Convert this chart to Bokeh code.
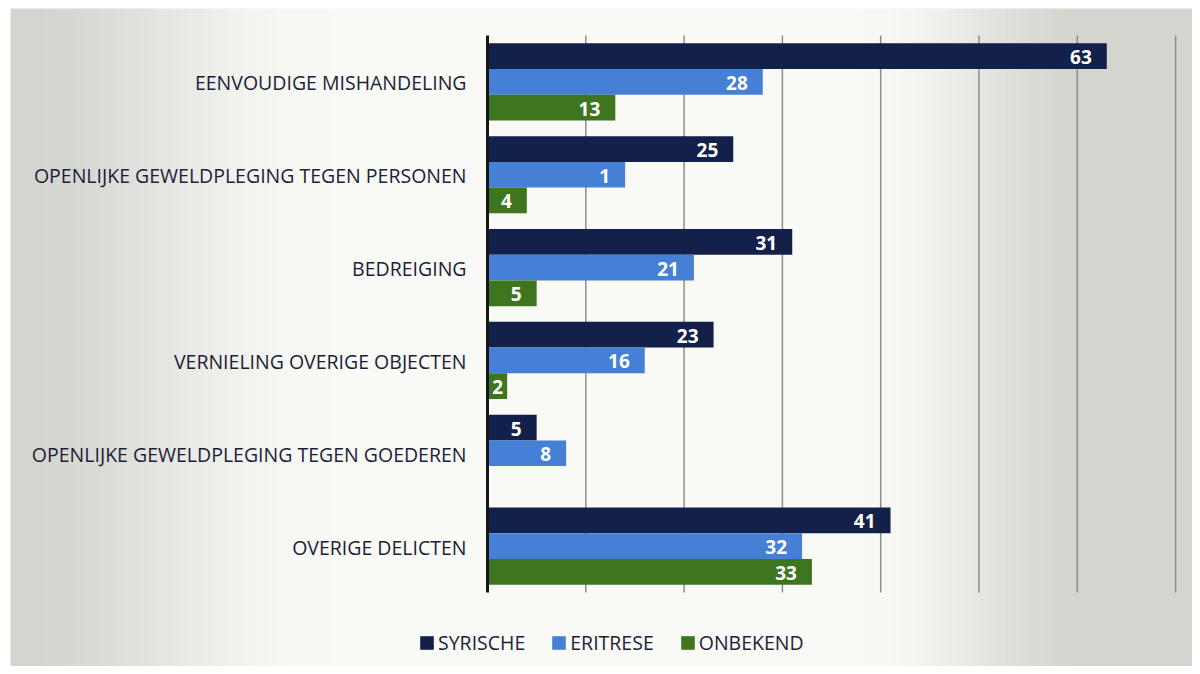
import numpy as np
from bokeh.plotting import figure
from bokeh.models import ColumnDataSource, Range1d, Legend, LegendItem
from bokeh.transform import dodge
from bokeh.core.properties import value
from bokeh.embed import file_html
from bokeh.resources import INLINE

categories = [
    "EENVOUDIGE MISHANDELING",
    "OPENLIJKE GEWELDPLEGING TEGEN PERSONEN",
    "BEDREIGING",
    "VERNIELING OVERIGE OBJECTEN",
    "OPENLIJKE GEWELDPLEGING TEGEN GOEDEREN",
    "OVERIGE DELICTEN",
]
syrische = [63, 25, 31, 23, 5, 41]
eritrese = [28, 14, 21, 16, 8, 32]
onbekend = [13, 4, 5, 2, 0, 33]
syrische_labels = ["63", "25", "31", "23", "5", "41"]
eritrese_labels = ["28", "1", "21", "16", "8", "32"]
onbekend_labels = ["13", "4", "5", "2", "", "33"]
series_names = ["SYRISCHE", "ERITRESE", "ONBEKEND"]
colors = ["#13214a", "#4580d6", "#3e7620"]
grid_ticks = [10, 20, 30, 40, 50, 60, 70]

n = len(categories)
ypos = [n - i - 0.5 for i in range(n)]

W, H = 1192, 666
# layout geometry (pixels)
ax_px, top_px, bot_px = 487, 35, 592
px_per_x = 9.83
px_per_y = (bot_px - top_px) / n

x_range = Range1d(-ax_px / px_per_x, (W - ax_px) / px_per_x)
y_range = Range1d(-(H - bot_px) / px_per_y, n + top_px / px_per_y)

p = figure(
    width=W, height=H, output_backend="svg", toolbar_location=None,
    x_range=x_range, y_range=y_range,
    x_axis_location=None, y_axis_location=None,
    min_border=0,
)
p.outline_line_color = None
p.border_fill_color = "white"
p.background_fill_color = "white"
p.xgrid.visible = False
p.ygrid.visible = False

# scanned-paper lighting background (starts a few pixels in, like the scan)
cols = 240
xs = np.linspace(0, 1, cols)
w = np.clip(np.minimum(xs / 0.27, (0.92 - xs) / 0.2), 0, 1)
w = w * w * (3 - 2 * w)
edge = np.array([213, 213, 208], dtype=float)
centre = np.array([249, 249, 246], dtype=float)
rgb = edge[None, :] + w[:, None] * (centre - edge)[None, :]
img = np.zeros((1, cols), dtype=np.uint32)
view = img.view(dtype=np.uint8).reshape((1, cols, 4))
view[0, :, 0] = rgb[:, 0].astype(np.uint8)
view[0, :, 1] = rgb[:, 1].astype(np.uint8)
view[0, :, 2] = rgb[:, 2].astype(np.uint8)
view[0, :, 3] = 255
img_x0 = x_range.start + 10 / px_per_x
img_y1 = y_range.end - 8 / px_per_y
p.image_rgba(image=[img], x=img_x0, y=y_range.start,
             dw=x_range.end - img_x0, dh=img_y1 - y_range.start, level="image")

# label offsets: keep small-bar labels inside the plot next to the axis
def offsets_for(vals, labels):
    out = []
    for v, lab in zip(vals, labels):
        wtxt = 10.5 * len(lab)
        end_px = v * px_per_x
        out.append(max(-15.0, 5 + wtxt - end_px))
    return out

src = ColumnDataSource(dict(
    cat=categories, y=ypos,
    syr=syrische, eri=eritrese, onb=onbekend,
    syr_l=syrische_labels, eri_l=eritrese_labels, onb_l=onbekend_labels,
    syr_o=offsets_for(syrische, syrische_labels),
    eri_o=offsets_for(eritrese, eritrese_labels),
    onb_o=offsets_for(onbekend, onbekend_labels),
))

# gridlines
p.segment(x0=grid_ticks, y0=[0] * len(grid_ticks), x1=grid_ticks, y1=[n] * len(grid_ticks),
          line_color="#8e8e8e", line_width=1.5, level="underlay")

bh = 0.277
offsets = [bh, 0.0, -bh]
keys = ["syr", "eri", "onb"]
renderers = []
for k, off, c in zip(keys, offsets, colors):
    r = p.hbar(y=dodge("y", off), right=k, left=0, height=bh,
               source=src, fill_color=c, line_color=None)
    renderers.append(r)

# value axis line
p.segment(x0=[0], y0=[0], x1=[0], y1=[n], line_color="#161616", line_width=3)

for k, off in zip(keys, offsets):
    p.text(x=k, y=dodge("y", off), text=k + "_l", source=src,
           x_offset=k + "_o", y_offset=1, text_align="right", text_baseline="middle",
           text_color="white", text_font=value("Open Sans"), text_font_style="bold",
           text_font_size="19px")

# category labels
p.text(x=0, y="y", text="cat", source=src, x_offset=-21, y_offset=1,
       text_align="right", text_baseline="middle", text_color="#1c1f38",
       text_font=value("Open Sans"), text_font_size="19.5px")

legend = Legend(
    items=[LegendItem(label=nm, renderers=[r]) for nm, r in zip(series_names, renderers)],
    orientation="horizontal", location=(418, 10),
    background_fill_alpha=0, border_line_color=None,
    label_text_font="Open Sans", label_text_font_size="19.5px", label_text_color="#1c1f38",
    glyph_width=17, glyph_height=17, spacing=25, label_standoff=3, padding=4, margin=0,
)
p.add_layout(legend, "center")

open("out.html", "w").write(file_html(p, INLINE))
